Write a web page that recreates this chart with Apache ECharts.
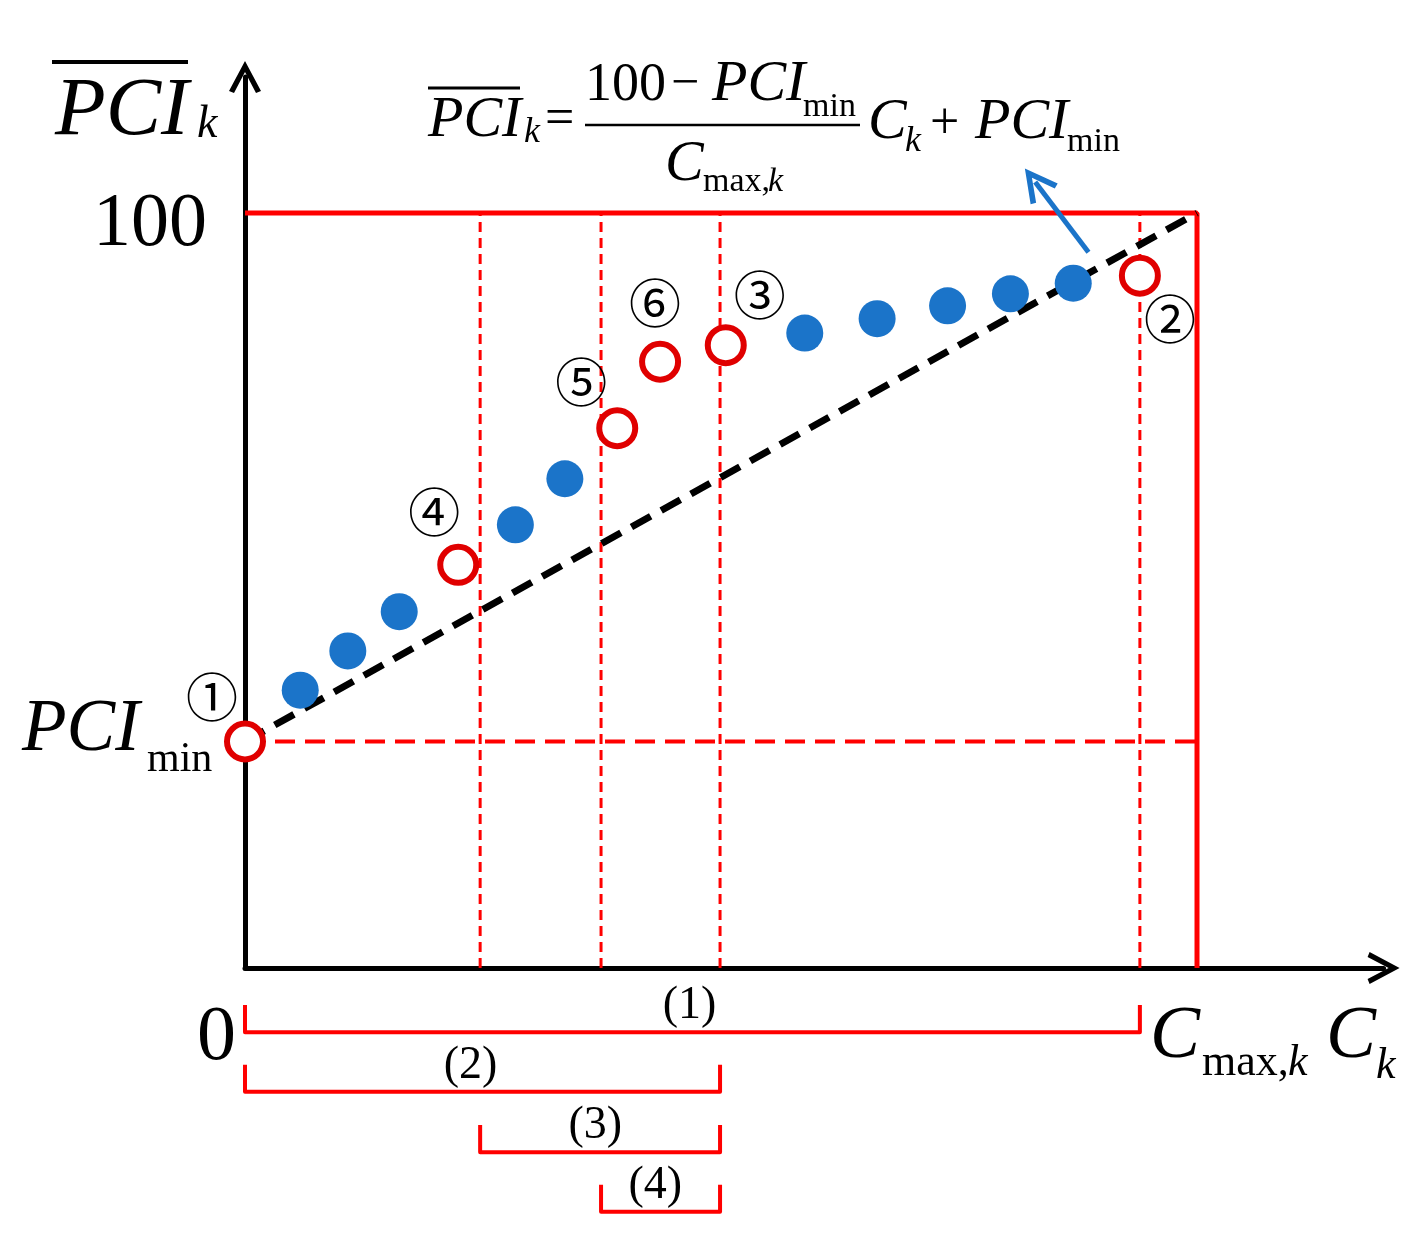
<!DOCTYPE html>
<html><head><meta charset="utf-8">
<script src="https://cdn.jsdelivr.net/npm/echarts@6/dist/echarts.min.js"></script>
<style>html,body{margin:0;padding:0;background:#fff}#c{width:1425px;height:1243px}</style>
</head><body><div id="c"></div>
<script>
// ---- data ----
const pciMin = 30;
const boxMax = 100;
const blueX = [5.8, 10.8, 16.2, 28.4, 33.6, 58.8, 66.4, 73.8, 80.4, 87.0];
const blueY = [36.8, 42.0, 47.2, 58.7, 64.8, 84.1, 86.0, 87.7, 89.3, 90.7];
const redX = [0, 22.4, 39.1, 43.6, 50.5, 94.0];
const redY = [30, 53.4, 71.5, 80.3, 82.5, 91.7];
const redTags = ['①', '④', '⑤', '⑥', '③', '②'];
const dashedX = [24.7, 37.4, 49.9, 94];
const bracketStart = [0, 0, 24.7, 37.4];
const bracketEnd = [94, 49.9, 49.9, 49.9];
const bracketLevel = [-8.5, -16.4, -24.4, -32.3];
const bracketLabelX = [46.7, 23.7, 36.8, 43.1];
const bracketTags = ['(1)', '(2)', '(3)', '(4)'];
const arrowFrom = [88.6, 94.8];
const arrowTo = [83.0, 104.1];
const yTickLabels = ['100'];
const yTickValues = [100];

// ---- layout ----
const OX = 245, OY = 968, SX = 9.52, SY = 7.55, XMAX = 119.6, YMAX = 118;
const RED = '#FF0000', RING = '#E00000', BLUE = '#1B74C9';
const SERIF = 'Liberation Serif';
const chevAxis = 'path://M0,30 L16,0 L32,30 L27,32 L16,11 L5,32 Z';
const tagOffsets = [[-33, -44], [-24, -53], [-36, -46], [-5, -59], [34, -50], [30, 44]];
const tickH = 3.6;

const common = {showSymbol: false, symbol: 'none', silent: true, animation: false};
const series = [];
series.push(Object.assign({type: 'line', z: 2, data: [[0, boxMax], [boxMax, boxMax], [boxMax, 0]],
  lineStyle: {color: RED, width: 5}}, common));
series.push(Object.assign({type: 'line', z: 2, data: [[0, pciMin], [boxMax, pciMin]],
  lineStyle: {color: RED, width: 4, type: [20, 10]}}, common));
dashedX.forEach(x => series.push(Object.assign({type: 'line', z: 2, data: [[x, 0], [x, boxMax]],
  lineStyle: {color: RED, width: 3, type: [10, 6]}}, common)));
bracketStart.forEach((s, i) => {
  const e = bracketEnd[i], l = bracketLevel[i];
  series.push(Object.assign({type: 'line', z: 2, clip: false,
    data: [[s, l + tickH], [s, l], [e, l], [e, l + tickH]],
    lineStyle: {color: RED, width: 4, join: 'round'}}, common));
});
series.push(Object.assign({type: 'line', z: 3, data: [[0, pciMin], [boxMax, 100]],
  lineStyle: {color: '#000', width: 7, type: [22, 12]}}, common));
series.push({type: 'scatter', z: 4, silent: true, animation: false,
  data: blueX.map((x, i) => [x, blueY[i]]), symbolSize: 37, itemStyle: {color: BLUE, opacity: 1},
  markLine: {silent: true, animation: false, symbol: ['none', chevAxis], symbolSize: [34, 34],
    label: {show: false}, lineStyle: {color: BLUE, width: 5, type: 'solid', opacity: 1},
    data: [[{coord: arrowFrom}, {coord: arrowTo}]]}});
series.push({type: 'scatter', z: 5, silent: true, animation: false,
  data: redX.map((x, i) => ({value: [x, redY[i]],
    label: {show: true, formatter: redTags[i], offset: tagOffsets[i]}})),
  symbolSize: 36, itemStyle: {color: '#fff', borderColor: RING, borderWidth: 6, opacity: 1},
  label: {show: true, position: 'inside', color: '#000', fontSize: 52, fontFamily: 'Noto Sans CJK JP'}});
series.push({type: 'scatter', z: 5, silent: true, animation: false, clip: false, symbolSize: 0,
  itemStyle: {opacity: 1},
  data: bracketLabelX.map((x, i) => ({value: [x, bracketLevel[i]], label: {formatter: bracketTags[i]}})),
  label: {show: true, position: 'inside', offset: [0, -26], color: '#000', fontSize: 46, fontFamily: SERIF}});

// ---- text annotations ----
function T(str, x, base, size, italic, align) {
  return {type: 'text', z: 100, x: x, y: base - 0.30 * size, silent: true,
    style: {text: str, fontSize: size, fontFamily: SERIF, fontStyle: italic ? 'italic' : 'normal',
      fill: '#000', align: align || 'left', verticalAlign: 'middle',
      textAlign: align || 'left', textVerticalAlign: 'middle'}};
}
function L(x1, y1, x2, y2, w) {
  return {type: 'line', z: 100, silent: true, shape: {x1, y1, x2, y2}, style: {stroke: '#000', lineWidth: w}};
}
const graphic = [
  L(52, 62, 188, 62, 4), T('PCI', 55, 137, 83, true), T('k', 197, 139, 46, true),
  T('PCI', 22, 753, 73, true), T('min', 147, 773, 42, false),
  T('0', 197, 1062, 78, false),
  T('C', 1150, 1060, 75, true), T('max,', 1202, 1077, 44, false), T('k', 1288, 1077, 44, true),
  T('C', 1326, 1060, 75, true), T('k', 1376, 1080, 44, true),
  // formula
  L(428, 88, 520, 88, 3), T('PCI', 428, 138, 58, true), T('k', 524, 143, 36, true),
  T('=', 545, 136, 52, false),
  T('100', 585, 102, 54, false), T('\u2212', 671, 100, 50, false), T('PCI', 712, 102, 58, true),
  T('min', 803, 117, 34, false),
  L(585, 125, 860, 125, 2.5),
  T('C', 665, 182, 58, true), T('max,', 703, 192, 34, false), T('k', 768, 192, 34, true),
  T('C', 868, 140, 58, true), T('k', 905, 152, 36, true),
  T('+', 930, 140, 52, false),
  T('PCI', 975, 140, 58, true), T('min', 1067, 152, 34, false)
];

const chart = echarts.init(document.getElementById('c'));
chart.setOption({
  animation: false,
  backgroundColor: '#fff',
  grid: {left: OX, top: OY - YMAX * SY, width: XMAX * SX, height: YMAX * SY, containLabel: false},
  xAxis: {type: 'value', min: 0, max: XMAX, splitLine: {show: false}, axisTick: {show: false},
    axisLabel: {show: false},
    axisLine: {show: true, onZero: true, symbol: ['none', chevAxis], symbolSize: [32, 32],
      lineStyle: {color: '#000', width: 5}}},
  yAxis: {type: 'value', min: 0, max: YMAX, interval: 100, splitLine: {show: false}, axisTick: {show: false},
    axisLabel: {show: true, margin: 38, fontSize: 76, fontFamily: SERIF, color: '#000',
      verticalAlign: 'top', lineHeight: 24,
      showMinLabel: false, showMaxLabel: false,
      formatter: v => { const i = yTickValues.indexOf(v); return i >= 0 ? yTickLabels[i] : ''; }},
    axisLine: {show: true, symbol: ['none', chevAxis], symbolSize: [32, 32],
      lineStyle: {color: '#000', width: 5}}},
  series: series,
  graphic: graphic
});
</script></body></html>
